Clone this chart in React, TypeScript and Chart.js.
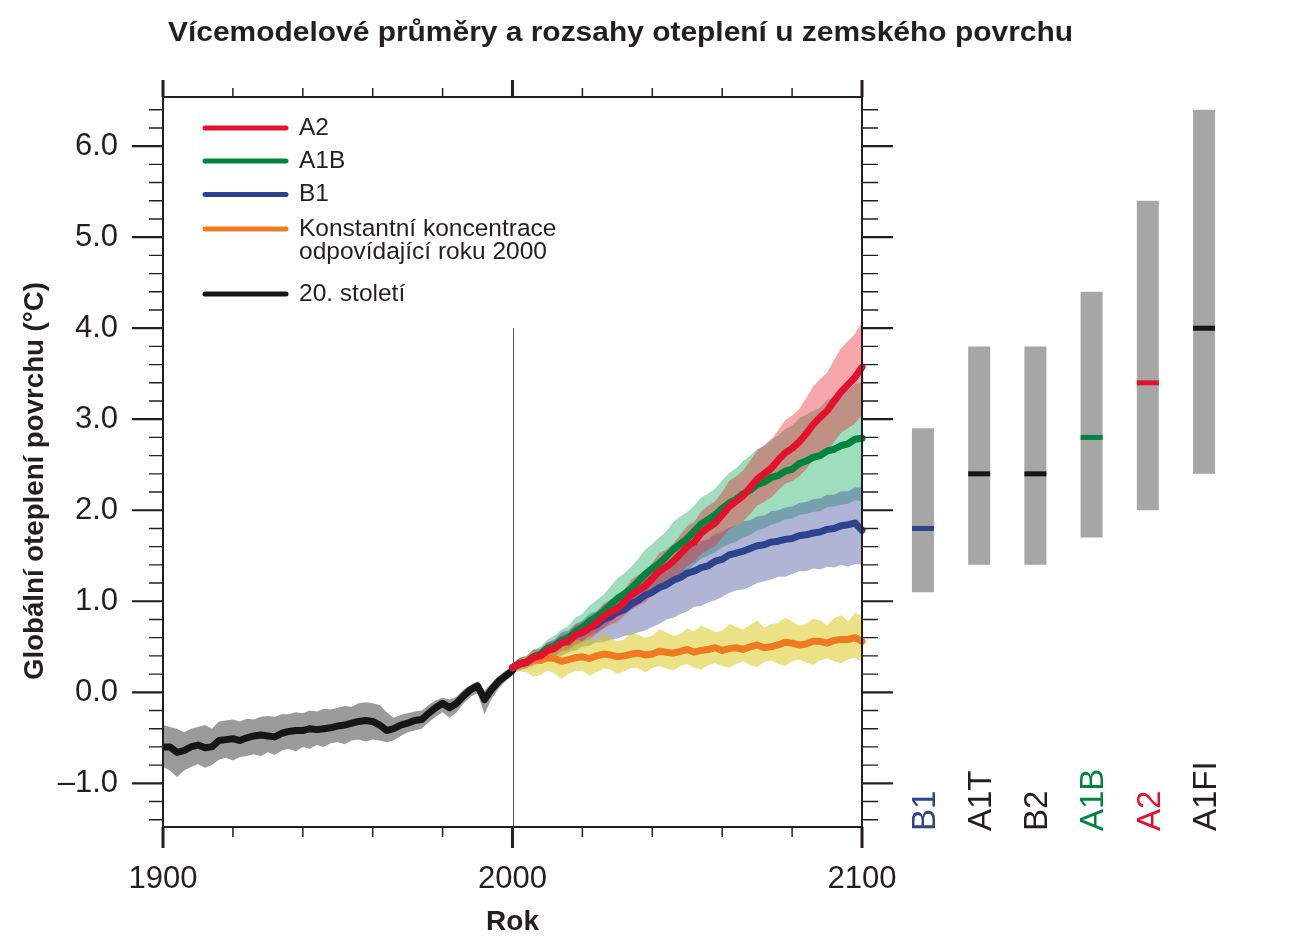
import React, { useEffect, useRef } from 'react';
import { Chart, registerables } from 'chart.js';

Chart.register(...registerables);

// ---------- text ----------
const TITLE = 'Vícemodelové průměry a rozsahy oteplení u zemského povrchu';
const Y_TITLE = 'Globální oteplení povrchu (°C)';
const X_TITLE = 'Rok';

// ---------- ticks ----------
const xMajorTicks = [1900, 2000, 2100];
const xTickLabels = ['1900', '2000', '2100'];
const xMinorTicks = [1920, 1940, 1960, 1980, 2020, 2040, 2060, 2080];
const yMajorTicks = [-1, 0, 1, 2, 3, 4, 5, 6];
const yTickLabels = ['–1.0', '0.0', '1.0', '2.0', '3.0', '4.0', '5.0', '6.0'];
const yMinorTicks = [
  -1.4, -1.2, -0.8, -0.6, -0.4, -0.2, 0.2, 0.4, 0.6, 0.8, 1.2, 1.4, 1.6, 1.8,
  2.2, 2.4, 2.6, 2.8, 3.2, 3.4, 3.6, 3.8, 4.2, 4.4, 4.6, 4.8, 5.2, 5.4, 5.6, 5.8,
  6.2, 6.4,
];
const dividerYear = 2000;
const dividerTop = 4.0;

// ---------- 20th century ----------
const histYears = [
  1900, 1902, 1904, 1906, 1908, 1910, 1912, 1914, 1916, 1918,
  1920, 1922, 1924, 1926, 1928, 1930, 1932, 1934, 1936, 1938,
  1940, 1942, 1944, 1946, 1948, 1950, 1952, 1954, 1956, 1958,
  1960, 1962, 1964, 1966, 1968, 1970, 1972, 1974, 1976, 1978,
  1980, 1982, 1984, 1986, 1988, 1990, 1992, 1994, 1996, 1998,
  2000,
];
const histMean = [
  -0.60, -0.60, -0.66, -0.64, -0.60, -0.58, -0.61, -0.60, -0.53, -0.52,
  -0.51, -0.53, -0.50, -0.48, -0.47, -0.48, -0.49, -0.45, -0.43, -0.42,
  -0.42, -0.40, -0.41, -0.40, -0.39, -0.37, -0.36, -0.34, -0.32, -0.31,
  -0.32, -0.36, -0.42, -0.40, -0.36, -0.34, -0.31, -0.30, -0.23, -0.17,
  -0.12, -0.17, -0.12, -0.04, 0.03, 0.07, -0.08, 0.03, 0.12, 0.18,
  0.24,
];
const histUpper = [
  -0.36, -0.38, -0.40, -0.44, -0.40, -0.38, -0.36, -0.40, -0.32, -0.31,
  -0.30, -0.32, -0.29, -0.30, -0.27, -0.26, -0.27, -0.24, -0.24, -0.22,
  -0.23, -0.20, -0.21, -0.18, -0.19, -0.17, -0.15, -0.16, -0.12, -0.11,
  -0.12, -0.14, -0.22, -0.28, -0.25, -0.23, -0.21, -0.20, -0.14, -0.09,
  -0.06, -0.08, -0.05, 0.03, 0.08, 0.12, 0.02, 0.10, 0.18, 0.24,
  0.29,
];
const histLower = [
  -0.82, -0.86, -0.93, -0.86, -0.82, -0.79, -0.83, -0.80, -0.74, -0.72,
  -0.75, -0.71, -0.70, -0.68, -0.70, -0.66, -0.69, -0.64, -0.62, -0.65,
  -0.60, -0.62, -0.58, -0.60, -0.56, -0.55, -0.57, -0.53, -0.52, -0.54,
  -0.52, -0.53, -0.55, -0.53, -0.48, -0.44, -0.42, -0.40, -0.33, -0.27,
  -0.22, -0.28, -0.22, -0.12, -0.05, -0.01, -0.24, -0.07, 0.04, 0.12,
  0.19,
];

// ---------- projections (2000–2100, every 2 years) ----------
const projYears = [
  2000, 2002, 2004, 2006, 2008, 2010, 2012, 2014, 2016, 2018,
  2020, 2022, 2024, 2026, 2028, 2030, 2032, 2034, 2036, 2038,
  2040, 2042, 2044, 2046, 2048, 2050, 2052, 2054, 2056, 2058,
  2060, 2062, 2064, 2066, 2068, 2070, 2072, 2074, 2076, 2078,
  2080, 2082, 2084, 2086, 2088, 2090, 2092, 2094, 2096, 2098,
  2100,
];
const a2Mean = [
  0.27, 0.31, 0.33, 0.38, 0.40, 0.46, 0.48, 0.54, 0.56, 0.63,
  0.66, 0.70, 0.76, 0.83, 0.88, 0.92, 0.99, 1.07, 1.12, 1.17,
  1.25, 1.33, 1.38, 1.44, 1.52, 1.60, 1.65, 1.75, 1.81, 1.86,
  1.95, 2.04, 2.10, 2.16, 2.25, 2.34, 2.40, 2.46, 2.55, 2.63,
  2.68, 2.75, 2.84, 2.94, 3.02, 3.09, 3.20, 3.30, 3.38, 3.46,
  3.57,
];
const a2Upper = [
  0.31, 0.38, 0.40, 0.47, 0.46, 0.55, 0.56, 0.63, 0.65, 0.74,
  0.77, 0.80, 0.87, 0.97, 1.02, 1.05, 1.13, 1.24, 1.29, 1.33,
  1.42, 1.53, 1.57, 1.63, 1.73, 1.83, 1.87, 1.99, 2.05, 2.10,
  2.20, 2.32, 2.37, 2.44, 2.54, 2.66, 2.71, 2.77, 2.88, 2.99,
  3.04, 3.11, 3.23, 3.36, 3.44, 3.51, 3.65, 3.78, 3.86, 3.94,
  4.07,
];
const a2Lower = [
  0.23, 0.25, 0.27, 0.31, 0.33, 0.38, 0.40, 0.45, 0.46, 0.52,
  0.55, 0.58, 0.64, 0.70, 0.74, 0.77, 0.84, 0.91, 0.95, 0.99,
  1.07, 1.15, 1.19, 1.23, 1.31, 1.39, 1.43, 1.52, 1.57, 1.61,
  1.70, 1.79, 1.83, 1.88, 1.96, 2.05, 2.09, 2.14, 2.22, 2.29,
  2.32, 2.37, 2.45, 2.55, 2.60, 2.65, 2.75, 2.85, 2.90, 2.95,
  3.05,
];

const a1bMean = [
  0.27, 0.32, 0.33, 0.39, 0.42, 0.48, 0.51, 0.57, 0.60, 0.67,
  0.71, 0.78, 0.83, 0.88, 0.96, 1.03, 1.08, 1.14, 1.22, 1.30,
  1.36, 1.42, 1.49, 1.57, 1.63, 1.69, 1.77, 1.85, 1.90, 1.95,
  2.02, 2.08, 2.12, 2.18, 2.22, 2.28, 2.31, 2.36, 2.38, 2.43,
  2.45, 2.51, 2.54, 2.58, 2.60, 2.65, 2.67, 2.71, 2.73, 2.78,
  2.79,
];
const a1bUpper = [
  0.31, 0.38, 0.40, 0.47, 0.50, 0.58, 0.62, 0.69, 0.73, 0.82,
  0.86, 0.95, 1.01, 1.07, 1.16, 1.25, 1.31, 1.38, 1.47, 1.57,
  1.63, 1.70, 1.77, 1.87, 1.93, 1.98, 2.05, 2.14, 2.18, 2.24,
  2.33, 2.41, 2.46, 2.54, 2.60, 2.67, 2.71, 2.78, 2.82, 2.89,
  2.93, 3.01, 3.05, 3.09, 3.13, 3.21, 3.25, 3.29, 3.32, 3.39,
  3.41,
];
const a1bLower = [
  0.23, 0.25, 0.26, 0.31, 0.33, 0.38, 0.40, 0.45, 0.47, 0.53,
  0.56, 0.62, 0.66, 0.70, 0.77, 0.83, 0.86, 0.91, 0.97, 1.04,
  1.09, 1.13, 1.19, 1.26, 1.30, 1.34, 1.40, 1.47, 1.50, 1.54,
  1.59, 1.63, 1.65, 1.70, 1.73, 1.78, 1.80, 1.84, 1.86, 1.90,
  1.91, 1.95, 1.96, 1.98, 1.99, 2.03, 2.04, 2.06, 2.07, 2.11,
  2.10,
];

const b1Mean = [
  0.27, 0.31, 0.33, 0.39, 0.41, 0.46, 0.49, 0.55, 0.57, 0.63,
  0.66, 0.71, 0.74, 0.80, 0.83, 0.88, 0.91, 0.97, 1.01, 1.07,
  1.10, 1.15, 1.18, 1.23, 1.26, 1.31, 1.33, 1.37, 1.39, 1.44,
  1.46, 1.51, 1.53, 1.55, 1.58, 1.61, 1.62, 1.65, 1.66, 1.68,
  1.69, 1.72, 1.73, 1.75, 1.76, 1.79, 1.80, 1.83, 1.84, 1.86,
  1.78,
];
const b1Upper = [
  0.31, 0.37, 0.39, 0.46, 0.48, 0.55, 0.58, 0.66, 0.68, 0.75,
  0.79, 0.86, 0.89, 0.96, 1.00, 1.07, 1.10, 1.18, 1.22, 1.28,
  1.32, 1.39, 1.42, 1.48, 1.51, 1.57, 1.60, 1.66, 1.68, 1.74,
  1.76, 1.81, 1.83, 1.88, 1.89, 1.93, 1.94, 1.99, 2.00, 2.03,
  2.04, 2.08, 2.09, 2.12, 2.13, 2.17, 2.17, 2.21, 2.21, 2.25,
  2.25,
];
const b1Lower = [
  0.23, 0.24, 0.27, 0.29, 0.33, 0.35, 0.39, 0.40, 0.44, 0.46,
  0.50, 0.51, 0.55, 0.55, 0.58, 0.59, 0.62, 0.63, 0.66, 0.68,
  0.72, 0.75, 0.80, 0.82, 0.86, 0.89, 0.94, 0.95, 0.99, 1.01,
  1.05, 1.09, 1.12, 1.13, 1.16, 1.20, 1.22, 1.24, 1.27, 1.27,
  1.30, 1.33, 1.33, 1.36, 1.35, 1.38, 1.37, 1.40, 1.38, 1.41,
  1.40,
];

const constMean = [
  0.27, 0.31, 0.33, 0.36, 0.35, 0.38, 0.37, 0.34, 0.36, 0.38,
  0.39, 0.37, 0.40, 0.42, 0.41, 0.39, 0.40, 0.42, 0.43, 0.41,
  0.42, 0.45, 0.44, 0.43, 0.45, 0.47, 0.44, 0.46, 0.47, 0.49,
  0.46, 0.48, 0.49, 0.47, 0.50, 0.52, 0.49, 0.50, 0.52, 0.55,
  0.54, 0.52, 0.53, 0.56, 0.56, 0.54, 0.57, 0.58, 0.58, 0.60,
  0.56,
];
const constUpper = [
  0.30, 0.36, 0.40, 0.45, 0.47, 0.44, 0.52, 0.55, 0.50, 0.58,
  0.56, 0.61, 0.57, 0.64, 0.60, 0.56, 0.58, 0.66, 0.63, 0.60,
  0.62, 0.69, 0.66, 0.62, 0.64, 0.70, 0.67, 0.73, 0.70, 0.66,
  0.68, 0.75, 0.72, 0.69, 0.74, 0.79, 0.71, 0.75, 0.76, 0.82,
  0.78, 0.73, 0.75, 0.81, 0.79, 0.74, 0.81, 0.85, 0.78, 0.87,
  0.84,
];
const constLower = [
  0.22, 0.23, 0.22, 0.17, 0.19, 0.24, 0.21, 0.15, 0.20, 0.23,
  0.24, 0.18, 0.22, 0.26, 0.25, 0.20, 0.23, 0.27, 0.26, 0.22,
  0.27, 0.29, 0.26, 0.24, 0.29, 0.31, 0.27, 0.25, 0.30, 0.32,
  0.29, 0.27, 0.31, 0.34, 0.30, 0.28, 0.33, 0.35, 0.31, 0.29,
  0.34, 0.36, 0.33, 0.30, 0.35, 0.37, 0.34, 0.32, 0.36, 0.38,
  0.33,
];

// ---------- scenario ranges (right panel) ----------
const scenarioLabels = ['B1', 'A1T', 'B2', 'A1B', 'A2', 'A1FI'];
const scenarioLow = [1.1, 1.4, 1.4, 1.7, 2.0, 2.4];
const scenarioHigh = [2.9, 3.8, 3.8, 4.4, 5.4, 6.4];
const scenarioBest = [1.8, 2.4, 2.4, 2.8, 3.4, 4.0];

// ---------- series names ----------
const seriesNames = ['A2', 'A1B', 'B1', 'Konstantní koncentrace\nodpovídající roku 2000', '20. století'];

// ---------- styles ----------
const FONT = "'Liberation Sans', Arial, Helvetica, sans-serif";
const INK = '#231f20';
const RED = '#e5102e';
const GREEN = '#00853f';
const BLUE = '#2c438f';
const ORANGE = '#f07a22';
const BLACK = '#161616';
const scenarioColors = [BLUE, INK, INK, GREEN, RED, INK];
const markerColors = [BLUE, BLACK, BLACK, GREEN, RED, BLACK];

const pts = (xs: number[], ys: number[]) => xs.map((x, i) => ({ x, y: ys[i] }));

function band(name: string, xs: number[], up: number[], lo: number[], color: string, order: number) {
  return [
    {
      type: 'line', label: name + ' max', data: pts(xs, up), borderWidth: 0, borderColor: 'transparent',
      pointRadius: 0, fill: '+1', backgroundColor: color, order, tension: 0,
    },
    {
      type: 'line', label: name + ' min', data: pts(xs, lo), borderWidth: 0, borderColor: 'transparent',
      pointRadius: 0, fill: false, order, tension: 0,
    },
  ];
}

function line(name: string, xs: number[], ys: number[], color: string, order: number) {
  return {
    type: 'line', label: name, data: pts(xs, ys), borderColor: color, borderWidth: 7,
    pointRadius: 0, fill: false, tension: 0, order, borderJoinStyle: 'round', borderCapStyle: 'round',
  };
}

const legendEntries = [
  { text: [seriesNames[0]], color: RED },
  { text: [seriesNames[1]], color: GREEN },
  { text: [seriesNames[2]], color: BLUE },
  { text: seriesNames[3].split('\n'), color: ORANGE },
  { text: [seriesNames[4]], color: BLACK },
];

const decorPlugin = {
  id: 'decor',
  beforeDatasetsDraw(chart: any) {
    const { ctx, scales, chartArea } = chart;
    const px = Math.round(scales.x.getPixelForValue(dividerYear)) + 0.5;
    ctx.save();
    ctx.strokeStyle = '#555';
    ctx.lineWidth = 1;
    ctx.beginPath();
    ctx.moveTo(px, scales.y.getPixelForValue(dividerTop));
    ctx.lineTo(px, chartArea.bottom);
    ctx.stroke();
    ctx.restore();
  },
  afterDraw(chart: any) {
    const { ctx, scales, chartArea } = chart;
    const x = scales.x, y = scales.y, x2 = scales.x2;
    const L = x.getPixelForValue(1900);
    const R = x.getPixelForValue(2100);
    const T = chartArea.top;
    const B = chartArea.bottom;
    ctx.save();
    ctx.strokeStyle = INK;
    ctx.fillStyle = INK;

    // frame
    ctx.lineWidth = 2;
    ctx.strokeRect(L, T, R - L, B - T);

    // x ticks
    ctx.lineWidth = 1.5;
    for (const v of xMinorTicks) {
      const p = x.getPixelForValue(v);
      ctx.beginPath();
      ctx.moveTo(p, T); ctx.lineTo(p, T - 9);
      ctx.moveTo(p, B); ctx.lineTo(p, B + 10);
      ctx.stroke();
    }
    ctx.lineWidth = 3;
    for (const v of xMajorTicks) {
      const p = x.getPixelForValue(v);
      ctx.beginPath();
      ctx.moveTo(p, T); ctx.lineTo(p, T - 17);
      ctx.moveTo(p, B); ctx.lineTo(p, B + 21);
      ctx.stroke();
    }
    // y ticks (left and right)
    ctx.lineWidth = 1.4;
    for (const v of yMinorTicks) {
      const p = y.getPixelForValue(v);
      ctx.beginPath();
      ctx.moveTo(L, p); ctx.lineTo(L - 14, p);
      ctx.moveTo(R, p); ctx.lineTo(R + 16, p);
      ctx.stroke();
    }
    ctx.lineWidth = 2.2;
    for (const v of yMajorTicks) {
      const p = y.getPixelForValue(v);
      ctx.beginPath();
      ctx.moveTo(L, p); ctx.lineTo(L - 31, p);
      ctx.moveTo(R, p); ctx.lineTo(R + 31, p);
      ctx.stroke();
    }

    // tick labels
    ctx.font = `31px ${FONT}`;
    ctx.textAlign = 'right';
    ctx.textBaseline = 'middle';
    yMajorTicks.forEach((v, i) => ctx.fillText(yTickLabels[i], 118, y.getPixelForValue(v)));
    ctx.textAlign = 'center';
    xMajorTicks.forEach((v, i) => ctx.fillText(xTickLabels[i], x.getPixelForValue(v), 879));

    // x title
    ctx.font = `bold 28px ${FONT}`;
    ctx.textBaseline = 'alphabetic';
    ctx.fillText(X_TITLE, x.getPixelForValue(2000), 930);

    // y title
    ctx.save();
    ctx.font = `bold 28px ${FONT}`;
    const yw = ctx.measureText(Y_TITLE).width;
    ctx.translate(43, 481);
    ctx.rotate(-Math.PI / 2);
    ctx.scale(398 / yw, 1);
    ctx.textAlign = 'center';
    ctx.fillText(Y_TITLE, 0, 0);
    ctx.restore();

    // main title
    ctx.save();
    ctx.font = `bold 27px ${FONT}`;
    const tw = ctx.measureText(TITLE).width;
    ctx.translate(620.5, 41);
    ctx.scale(905 / tw, 1);
    ctx.textAlign = 'center';
    ctx.textBaseline = 'alphabetic';
    ctx.fillText(TITLE, 0, 0);
    ctx.restore();

    // legend
    const legendY = [128, 161, 194.5, 229, 294];
    ctx.font = `24.5px ${FONT}`;
    ctx.textAlign = 'left';
    ctx.textBaseline = 'middle';
    legendEntries.forEach((e, i) => {
      const cy = legendY[i];
      ctx.strokeStyle = e.color;
      ctx.lineWidth = 5;
      ctx.lineCap = 'round';
      ctx.beginPath();
      ctx.moveTo(205, cy);
      ctx.lineTo(286, cy);
      ctx.stroke();
      ctx.fillStyle = INK;
      e.text.forEach((t, k) => ctx.fillText(t, 299, cy + k * 23.5));
    });

    // scenario labels
    ctx.font = `33px ${FONT}`;
    ctx.textAlign = 'left';
    ctx.textBaseline = 'alphabetic';
    scenarioLabels.forEach((lab, i) => {
      ctx.save();
      ctx.translate(x2.getPixelForValue(i), 831);
      ctx.rotate(-Math.PI / 2);
      ctx.fillStyle = scenarioColors[i];
      ctx.fillText(lab, 0, 11.8);
      ctx.restore();
    });

    ctx.restore();
  },
};

export default function App() {
  const ref = useRef<HTMLCanvasElement>(null);
  useEffect(() => {
    const datasets: any[] = [
      ...band('20. století', histYears, histUpper, histLower, 'rgba(150,150,150,0.95)', 100),
      ...band('A1B', projYears, a1bUpper, a1bLower, 'rgba(0,165,85,0.38)', 90),
      ...band('B1', projYears, b1Upper, b1Lower, 'rgba(60,70,150,0.40)', 80),
      ...band('A2', projYears, a2Upper, a2Lower, 'rgba(235,35,45,0.40)', 70),
      ...band('Konst', projYears, constUpper, constLower, 'rgba(215,200,20,0.52)', 60),
      line(seriesNames[4], histYears, histMean, BLACK, 5),
      line(seriesNames[3], projYears, constMean, ORANGE, 4),
      line(seriesNames[2], projYears, b1Mean, BLUE, 3),
      line(seriesNames[1], projYears, a1bMean, GREEN, 2),
      line(seriesNames[0], projYears, a2Mean, RED, 1),
      {
        type: 'bar', label: 'Rozsah', xAxisID: 'x2', yAxisID: 'y',
        data: scenarioLabels.map((_, i) => ({ x: i, y: [scenarioLow[i], scenarioHigh[i]] })),
        backgroundColor: '#a6a6a6', borderWidth: 0, grouped: false, maxBarThickness: 22, order: 50,
      },
      {
        type: 'line', label: 'Nejlepší odhad', xAxisID: 'x2', yAxisID: 'y', showLine: false,
        data: scenarioLabels.map((_, i) => ({ x: i, y: scenarioBest[i] })),
        pointStyle: 'line', pointRadius: 11, pointHoverRadius: 11, pointBorderWidth: 5,
        pointBorderColor: markerColors, borderColor: markerColors, order: 0, fill: false,
      },
    ];
    const chart = new Chart(ref.current as HTMLCanvasElement, {
      type: 'line',
      data: { datasets },
      options: {
        responsive: false,
        maintainAspectRatio: false,
        animation: false,
        events: [],
        layout: { padding: { left: 163, top: 97, right: 72, bottom: 114 } },
        scales: {
          x: { type: 'linear', min: 1900, max: 2208.15, display: false, offset: false },
          x2: { type: 'linear', min: -13.52, max: 5.64, display: false, offset: false, grid: { offset: false } },
          y: { type: 'linear', min: -1.48, max: 6.54, display: false, beginAtZero: false },
        },
        plugins: {
          legend: { display: false },
          tooltip: { enabled: false },
          title: { display: false },
        },
      },
      plugins: [decorPlugin],
    } as any);
    return () => chart.destroy();
  }, []);
  return (
    <div style={{ position: 'absolute', left: 0, top: 0, width: 1312, height: 941, background: '#fff' }}>
      <canvas ref={ref} width={1312} height={941} style={{ display: 'block' }} />
    </div>
  );
}
